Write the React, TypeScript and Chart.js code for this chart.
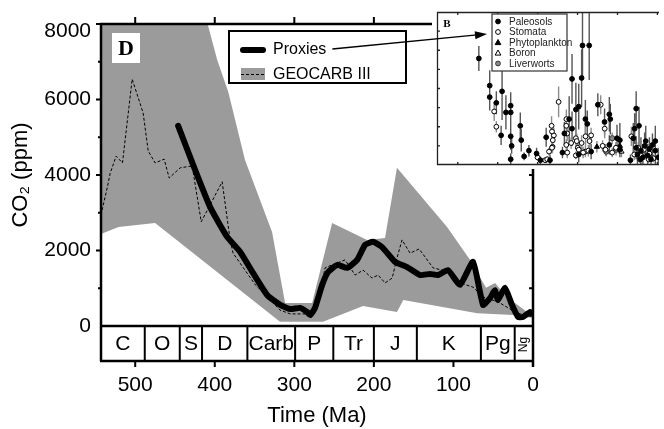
import React, { useEffect, useRef } from 'react';
import { Chart, registerables } from 'chart.js';

Chart.register(...registerables);

// ---------------- main chart data ----------------
const periodNames = ['C', 'O', 'S', 'D', 'Carb', 'P', 'Tr', 'J', 'K', 'Pg', 'Ng'];
const periodBounds = [543, 488, 444, 416, 359, 299, 251, 200, 146, 65.5, 23, 0];
const timeTicks = [500, 400, 300, 200, 100, 0];
const co2MinorTicks = [1000, 2000, 3000, 4000, 5000, 6000, 7000, 8000];
const seriesNames = ['Proxies', 'GEOCARB III'];

const proxiesAge = [446, 424.6, 405.8, 384.4, 368, 351.8, 334.2, 317.8, 305.3, 292.7, 284, 280, 274, 265, 257.5, 246, 233.7, 221, 211, 201, 189.7, 173.4, 158.3, 142, 129.4, 119.3, 106.8, 91.7, 75.4, 62.8, 54, 47.7, 44, 35.2, 26.4, 18.8, 12.6, 3.8, 0];
const proxiesCO2 = [5300, 4130, 3150, 2360, 1960, 1400, 820, 560, 450, 480, 370, 290, 480, 1090, 1430, 1620, 1540, 1750, 2150, 2230, 2090, 1700, 1560, 1350, 1380, 1350, 1480, 1090, 1700, 560, 740, 950, 690, 1010, 560, 240, 240, 370, 320];

const geocarbAge = [543, 535, 531.4, 524, 516, 503.8, 490, 483.7, 475, 463.6, 457.3, 443.5, 428.4, 417, 390.7, 380.7, 377, 349, 330, 318, 305, 286, 277.6, 270, 261.3, 252.5, 236.2, 223.6, 213.6, 202.3, 194.7, 186, 177, 171, 164.6, 154.5, 143.2, 135.7, 125.6, 110.6, 101.8, 91.7, 75.4, 62.8, 44, 26.4, 16.3, 0];
const geocarbCO2 = [2940, 3680, 4050, 4500, 4320, 6540, 5640, 4640, 4320, 4420, 3920, 4190, 4240, 2760, 3820, 2280, 1930, 1090, 690, 420, 320, 320, 370, 640, 1540, 1620, 1750, 1350, 1480, 1270, 1350, 1140, 1270, 1800, 2280, 1930, 2040, 1830, 1540, 1460, 1330, 1140, 1030, 770, 640, 420, 320, 240];

const bandUpperAge = [543, 409, 397, 383, 362, 328, 311.6, 277.6, 252.5, 208.5, 186, 171, 108, 79, 59, 47.7, 32.7, 7.5, 0];
const bandUpperCO2 = [8000, 8000, 7050, 6200, 4400, 2490, 610, 610, 2730, 2280, 2330, 4190, 2620, 1750, 1010, 1140, 770, 370, 320];
const bandLowerAge = [543, 521, 475, 318, 264, 213.6, 171, 163, 70, 25, 0];
const bandLowerCO2 = [2440, 2620, 2730, 110, 110, 530, 370, 690, 340, 290, 210];

// ---------------- inset (B) data ----------------
const insetNames = ['Paleosols', 'Stomata', 'Phytoplankton', 'Boron', 'Liverworts'];
const insetTimeTicks = [400, 350, 300, 250, 200, 150];
const insetCO2Ticks = [1000, 2000, 3000, 4000, 5000, 6000, 7000];

const paleosolAge = [373.6, 360, 360, 351.7, 344.5, 345.7, 339.7, 333.7, 333.7, 333.7, 332.5, 333.7, 321.7, 320.5, 316.9, 310.9, 301.3, 296.5, 289.3, 284.5, 268.9, 266.5, 260.5, 256.9, 256.9, 252.1, 248.5, 248.5, 244.9, 243.8, 235.4, 240.2, 237.8, 233, 224.6, 216.2, 210.2, 209, 210.2, 200.6, 197, 197, 176.6, 180.2, 176.6, 173, 170.6, 168.2, 164.6, 162.2, 156.2, 152.6, 149, 183.8, 152.6, 158, 166, 171, 175, 160, 178.5];
const paleosolCO2 = [5570, 4150, 3550, 3250, 3850, 1550, 2750, 3100, 2750, 1500, 1000, 300, 2050, 1300, 450, 750, 600, 250, 1450, 250, 650, 1650, 2400, 1900, 4500, 2900, 3050, 550, 4550, 6250, 6250, 2400, 2150, 700, 3150, 2250, 2650, 2400, 1050, 1400, 1300, 800, 2950, 1400, 900, 2050, 750, 400, 1250, 500, 1050, 750, 400, 250, 1250, 300, 1000, 300, 550, 850, 1900];
const paleosolErr = [650, 800, 700, 600, 1500, 500, 900, 700, 600, 700, 400, 300, 700, 600, 200, 300, 300, 200, 500, 300, 300, 600, 1200, 900, 1300, 1400, 1200, 400, 1500, 1800, 1800, 1000, 700, 400, 600, 700, 900, 800, 500, 700, 900, 400, 900, 800, 600, 1000, 700, 500, 800, 600, 600, 700, 500, 300, 800, 400, 700, 300, 500, 600, 800];

const stomataAge = [354.4, 351.7, 300.1, 290.5, 285.7, 281.3, 282.5, 279.7, 273.7, 264.1, 264.1, 262.9, 252.1, 252.1, 249.7, 244.9, 240.2, 233, 221, 218.6, 179, 167, 172, 160, 155, 282, 281, 282, 288, 264, 263, 258, 251, 248.5, 243, 240, 235, 236.5, 216, 215, 206.6, 202, 182.6, 174, 170.6, 161];
const stomataCO2 = [2800, 2000, 400, 250, 700, 950, 2050, 1550, 3300, 1050, 2050, 650, 1400, 500, 900, 1150, 700, 1550, 3150, 1000, 550, 800, 300, 600, 350, 1750, 1300, 900, 300, 2400, 1650, 1150, 1250, 800, 650, 1500, 1250, 750, 1900, 800, 650, 900, 1500, 900, 500, 300];
const stomataErr = [500, 300, 150, 150, 200, 300, 500, 400, 800, 300, 600, 300, 500, 200, 300, 400, 300, 400, 500, 300, 300, 300, 200, 300, 200, 400, 300, 300, 150, 500, 400, 300, 400, 300, 300, 500, 400, 300, 500, 300, 250, 300, 500, 300, 250, 200];

const phytoAge = [225.8, 197];
const phytoCO2 = [950, 1000];
const phytoErr = [300, 300];

const boronAge = [199, 195];
const boronCO2 = [900, 700];
const boronErr = [250, 300];

const liverwortAge = [206.6, 201.8, 214];
const liverwortCO2 = [1400, 800, 700];
const liverwortErr = [300, 300, 250];

// ---------------- styling constants ----------------
const BAND = '#9b9b9b';
const SANS = '"Liberation Sans", Arial, Helvetica, sans-serif';
const SERIF = '"Liberation Serif", "Times New Roman", serif';
const INSET = { left: 432, top: 7, width: 232, height: 163 };
const BOX_H = 35;

const insetSeries = [
  { name: insetNames[0], age: paleosolAge, co2: paleosolCO2, err: paleosolErr, style: 'circle', r: 2.4, fill: '#000', stroke: '#000' },
  { name: insetNames[1], age: stomataAge, co2: stomataCO2, err: stomataErr, style: 'circle', r: 2.4, fill: '#fff', stroke: '#000' },
  { name: insetNames[2], age: phytoAge, co2: phytoCO2, err: phytoErr, style: 'triangle', r: 3, fill: '#000', stroke: '#000' },
  { name: insetNames[3], age: boronAge, co2: boronCO2, err: boronErr, style: 'triangle', r: 3, fill: '#fff', stroke: '#000' },
  { name: insetNames[4], age: liverwortAge, co2: liverwortCO2, err: liverwortErr, style: 'circle', r: 2.6, fill: '#8a8a8a', stroke: '#333' },
];

const pts = (xs: number[], ys: number[]) => xs.map((x, i) => ({ x, y: ys[i] }));

function drawMarker(ctx: CanvasRenderingContext2D, style: string, x: number, y: number, r: number, fill: string, stroke: string) {
  ctx.beginPath();
  if (style === 'triangle') {
    ctx.moveTo(x, y - r);
    ctx.lineTo(x + r * 0.95, y + r * 0.7);
    ctx.lineTo(x - r * 0.95, y + r * 0.7);
    ctx.closePath();
  } else {
    ctx.arc(x, y, r, 0, Math.PI * 2);
  }
  ctx.fillStyle = fill;
  ctx.fill();
  ctx.lineWidth = 1;
  ctx.strokeStyle = stroke;
  ctx.stroke();
}

const mainDecor = {
  id: 'mainDecor',
  afterDatasetsDraw(chart: any) {
    const ctx: CanvasRenderingContext2D = chart.ctx;
    ctx.save();
    // panel letter
    ctx.fillStyle = '#fff';
    ctx.fillRect(112, 33, 28, 30);
    ctx.fillStyle = '#000';
    ctx.font = `bold 22px ${SERIF}`;
    ctx.textAlign = 'center';
    ctx.textBaseline = 'middle';
    ctx.fillText('D', 126, 49);
    // legend
    const lx = 229, ly = 31, lw = 177, lh = 52;
    ctx.fillStyle = '#fff';
    ctx.fillRect(lx, ly, lw, lh);
    ctx.lineWidth = 2;
    ctx.strokeStyle = '#000';
    ctx.strokeRect(lx, ly, lw, lh);
    ctx.lineWidth = 6;
    ctx.lineCap = 'round';
    ctx.beginPath();
    ctx.moveTo(lx + 14, ly + 19);
    ctx.lineTo(lx + 34, ly + 19);
    ctx.stroke();
    ctx.lineCap = 'butt';
    ctx.fillStyle = BAND;
    ctx.fillRect(lx + 12, ly + 37, 24, 12);
    ctx.lineWidth = 1;
    ctx.setLineDash([3, 2]);
    ctx.beginPath();
    ctx.moveTo(lx + 12, ly + 43.5);
    ctx.lineTo(lx + 36, ly + 43.5);
    ctx.stroke();
    ctx.setLineDash([]);
    ctx.fillStyle = '#000';
    ctx.font = `16px ${SANS}`;
    ctx.textAlign = 'left';
    ctx.fillText(seriesNames[0], lx + 44, ly + 19);
    ctx.fillText(seriesNames[1], lx + 44, ly + 44);
    ctx.restore();
  },
  afterDraw(chart: any) {
    const ctx: CanvasRenderingContext2D = chart.ctx;
    const xs = chart.scales.x, ys = chart.scales.y;
    const { left, right, top, bottom } = chart.chartArea;
    const boxBottom = bottom + BOX_H;
    const insetBottom = INSET.top + INSET.height - 1;
    ctx.save();
    ctx.strokeStyle = '#000';
    ctx.fillStyle = '#000';
    // period boxes
    ctx.lineWidth = 2;
    ctx.textAlign = 'center';
    ctx.textBaseline = 'middle';
    for (let i = 0; i < periodNames.length; i++) {
      const x0 = xs.getPixelForValue(periodBounds[i]);
      const x1 = xs.getPixelForValue(periodBounds[i + 1]);
      if (i < periodNames.length - 1) {
        ctx.beginPath();
        ctx.moveTo(x1, bottom);
        ctx.lineTo(x1, boxBottom);
        ctx.stroke();
      }
      const cx = (x0 + x1) / 2, cy = bottom + BOX_H / 2 + 1;
      if (periodNames[i] === 'Ng') {
        ctx.save();
        ctx.translate(cx, cy);
        ctx.rotate(-Math.PI / 2);
        ctx.font = `12px ${SANS}`;
        ctx.fillText(periodNames[i], 0, 0);
        ctx.restore();
      } else {
        ctx.font = `21px ${SANS}`;
        ctx.fillText(periodNames[i], cx, cy);
      }
    }
    // frame
    ctx.lineWidth = 2.5;
    ctx.beginPath();
    ctx.moveTo(left, top);
    ctx.lineTo(left, boxBottom);
    ctx.moveTo(left - 1, top);
    ctx.lineTo(INSET.left, top);
    ctx.moveTo(left - 1, boxBottom);
    ctx.lineTo(right + 1, boxBottom);
    ctx.moveTo(left, bottom);
    ctx.lineTo(right, bottom);
    ctx.moveTo(right, insetBottom);
    ctx.lineTo(right, boxBottom + 6);
    ctx.stroke();
    // ticks
    ctx.lineWidth = 2;
    ctx.beginPath();
    for (const t of timeTicks) {
      const px = xs.getPixelForValue(t);
      ctx.moveTo(px, boxBottom);
      ctx.lineTo(px, boxBottom + 6);
      if (px < INSET.left) {
        ctx.moveTo(px, top);
        ctx.lineTo(px, top - 7);
      }
    }
    for (const v of co2MinorTicks) {
      const py = ys.getPixelForValue(v);
      const major = v % 2000 === 0;
      ctx.moveTo(left, py);
      ctx.lineTo(left - (major ? 5 : 3), py);
      if (py > insetBottom + 3) {
        ctx.moveTo(right, py);
        ctx.lineTo(right - 4, py);
      }
    }
    ctx.stroke();
    // top tick label, drawn slightly below the frame as in the source
    ctx.font = `21px ${SANS}`;
    ctx.textAlign = 'right';
    ctx.textBaseline = 'middle';
    ctx.fillText('8000', left - 10, ys.getPixelForValue(8000) + 7);
    // arrow from legend to inset
    ctx.font = `16px ${SANS}`;
    const sx = 229 + 44 + ctx.measureText(seriesNames[0]).width + 6;
    const sy = 31 + 18;
    const ex = INSET.left + 55, ey = INSET.top + 27;
    const ang = Math.atan2(ey - sy, ex - sx);
    ctx.lineWidth = 1.3;
    ctx.beginPath();
    ctx.moveTo(sx, sy);
    ctx.lineTo(ex - 10 * Math.cos(ang), ey - 10 * Math.sin(ang));
    ctx.stroke();
    ctx.beginPath();
    ctx.moveTo(ex, ey);
    ctx.lineTo(ex - 12 * Math.cos(ang) + 4 * Math.sin(ang), ey - 12 * Math.sin(ang) - 4 * Math.cos(ang));
    ctx.lineTo(ex - 12 * Math.cos(ang) - 4 * Math.sin(ang), ey - 12 * Math.sin(ang) + 4 * Math.cos(ang));
    ctx.closePath();
    ctx.fill();
    ctx.restore();
  },
};

const insetDecor = {
  id: 'insetDecor',
  beforeDraw(chart: any) {
    const ctx: CanvasRenderingContext2D = chart.ctx;
    ctx.save();
    ctx.fillStyle = '#fff';
    ctx.fillRect(0, 0, chart.width, chart.height);
    ctx.restore();
  },
  beforeDatasetsDraw(chart: any) {
    const ctx: CanvasRenderingContext2D = chart.ctx;
    const xs = chart.scales.x, ys = chart.scales.y;
    const a = chart.chartArea;
    ctx.save();
    ctx.beginPath();
    ctx.rect(a.left, a.top, a.right - a.left, a.bottom - a.top);
    ctx.clip();
    insetSeries.forEach((s, si) => {
      ctx.strokeStyle = si === 0 ? '#555' : '#8c8c8c';
      ctx.lineWidth = 1.4;
      ctx.beginPath();
      s.age.forEach((t, i) => {
        const px = xs.getPixelForValue(t);
        ctx.moveTo(px, ys.getPixelForValue(s.co2[i] - s.err[i]));
        ctx.lineTo(px, ys.getPixelForValue(s.co2[i] + s.err[i]));
      });
      ctx.stroke();
    });
    ctx.restore();
  },
  afterDraw(chart: any) {
    const ctx: CanvasRenderingContext2D = chart.ctx;
    const xs = chart.scales.x, ys = chart.scales.y;
    const a = chart.chartArea;
    ctx.save();
    ctx.strokeStyle = '#222';
    ctx.lineWidth = 1.3;
    ctx.beginPath();
    ctx.moveTo(a.left + 0.5, a.top);
    ctx.lineTo(a.left + 0.5, a.bottom);
    ctx.moveTo(a.left, a.top + 0.5);
    ctx.lineTo(a.right, a.top + 0.5);
    ctx.moveTo(a.left, a.bottom - 0.5);
    ctx.lineTo(a.right, a.bottom - 0.5);
    for (const t of insetTimeTicks) {
      const px = xs.getPixelForValue(t);
      ctx.moveTo(px, a.top);
      ctx.lineTo(px, a.top + 3);
      ctx.moveTo(px, a.bottom);
      ctx.lineTo(px, a.bottom - 3);
    }
    for (const v of insetCO2Ticks) {
      const py = ys.getPixelForValue(v);
      ctx.moveTo(a.left, py);
      ctx.lineTo(a.left + 3, py);
    }
    ctx.stroke();
    // panel letter
    ctx.fillStyle = '#000';
    ctx.font = `bold 11px ${SERIF}`;
    ctx.textAlign = 'center';
    ctx.textBaseline = 'middle';
    ctx.fillText('B', 15, 17);
    // legend
    const bx = 60, by = 7, bw = 75, bh = 57;
    ctx.fillStyle = '#fff';
    ctx.fillRect(bx, by, bw, bh);
    ctx.strokeStyle = '#333';
    ctx.lineWidth = 1.2;
    ctx.strokeRect(bx, by, bw, bh);
    insetSeries.forEach((s, i) => {
      const y = by + 7.5 + i * 10.5;
      drawMarker(ctx, s.style, bx + 6, y, s.style === 'triangle' ? 3 : 2.4, s.fill, s.stroke);
      ctx.fillStyle = '#222';
      ctx.font = `10px ${SANS}`;
      ctx.textAlign = 'left';
      ctx.textBaseline = 'middle';
      ctx.fillText(s.name, bx + 17, y + 0.5);
    });
    ctx.restore();
  },
};

export default function App() {
  const mainRef = useRef<HTMLCanvasElement>(null);
  const insetRef = useRef<HTMLCanvasElement>(null);

  useEffect(() => {
    document.body.style.margin = '0';
    Chart.defaults.font.family = SANS;
    Chart.defaults.color = '#000';

    const inset = new Chart(insetRef.current as HTMLCanvasElement, {
      type: 'scatter',
      data: {
        datasets: insetSeries.map((s) => ({
          label: s.name,
          data: pts(s.age, s.co2),
          pointStyle: s.style,
          pointRadius: s.r,
          backgroundColor: s.fill,
          borderColor: s.stroke,
          borderWidth: 1,
        })),
      },
      options: {
        responsive: false,
        animation: false,
        devicePixelRatio: 1,
        layout: { padding: { left: 1, top: 1, right: 0, bottom: 1 } },
        plugins: { legend: { display: false }, tooltip: { enabled: false } },
        scales: {
          x: { type: 'linear', display: false, min: 148, max: 426, reverse: true },
          y: { type: 'linear', display: false, min: 0, max: 8000 },
        },
      } as any,
      plugins: [insetDecor],
    } as any);

    const main = new Chart(mainRef.current as HTMLCanvasElement, {
      type: 'line',
      data: {
        datasets: [
          {
            label: seriesNames[0],
            data: pts(proxiesAge, proxiesCO2),
            borderColor: '#000',
            borderWidth: 6,
            pointRadius: 0,
            tension: 0.15,
            borderCapStyle: 'round',
            borderJoinStyle: 'round',
            fill: false,
          },
          {
            label: seriesNames[1],
            data: pts(geocarbAge, geocarbCO2),
            borderColor: '#000',
            borderWidth: 1,
            borderDash: [3, 2],
            pointRadius: 0,
            tension: 0,
            fill: false,
          },
          {
            label: 'GEOCARB upper',
            data: pts(bandUpperAge, bandUpperCO2),
            borderWidth: 0,
            borderColor: 'rgba(0,0,0,0)',
            backgroundColor: BAND,
            pointRadius: 0,
            tension: 0,
            fill: '+1',
          },
          {
            label: 'GEOCARB lower',
            data: pts(bandLowerAge, bandLowerCO2),
            borderWidth: 0,
            borderColor: 'rgba(0,0,0,0)',
            pointRadius: 0,
            tension: 0,
            fill: false,
          },
        ],
      },
      options: {
        responsive: false,
        animation: false,
        devicePixelRatio: 1,
        layout: { padding: { top: 24, right: 131, left: 0, bottom: 0 } },
        plugins: { legend: { display: false }, tooltip: { enabled: false } },
        scales: {
          x: {
            type: 'linear',
            reverse: true,
            min: 0,
            max: 543,
            grid: { display: false, drawTicks: false },
            border: { display: false },
            ticks: {
              stepSize: 100,
              includeBounds: false,
              padding: 47,
              maxRotation: 0,
              color: '#000',
              font: { size: 21 },
              callback: (v: any) => String(v),
            },
            title: { display: true, text: 'Time (Ma)', color: '#000', font: { size: 22 }, padding: { top: 0, bottom: 0 } },
            afterFit: (s: any) => { s.height = 103; },
          },
          y: {
            type: 'linear',
            min: 0,
            max: 8000,
            grid: { display: false, drawTicks: false },
            border: { display: false },
            ticks: {
              stepSize: 2000,
              padding: 10,
              color: '#000',
              font: { size: 21 },
              callback: (v: any) => (v === 8000 ? '' : String(v)),
            },
            title: { display: true, text: 'CO₂ (ppm)', color: '#000', font: { size: 22 }, padding: { top: 8, bottom: 0 } },
            afterFit: (s: any) => { s.width = 101; },
          },
        },
      } as any,
      plugins: [mainDecor],
    } as any);

    return () => {
      main.destroy();
      inset.destroy();
    };
  }, []);

  return (
    <div style={{ position: 'relative', width: 664, height: 429, background: '#fff', overflow: 'hidden' }}>
      <canvas
        ref={insetRef}
        width={INSET.width}
        height={INSET.height}
        style={{ position: 'absolute', left: INSET.left, top: INSET.top, width: INSET.width, height: INSET.height, zIndex: 1 }}
      />
      <canvas
        ref={mainRef}
        width={664}
        height={429}
        style={{ position: 'absolute', left: 0, top: 0, width: 664, height: 429, zIndex: 2, pointerEvents: 'none' }}
      />
    </div>
  );
}
